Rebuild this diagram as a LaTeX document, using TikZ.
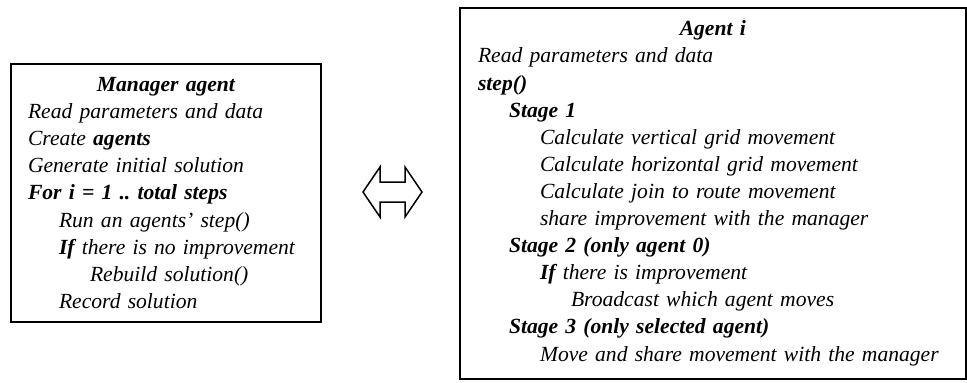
\documentclass[tikz,border=0pt]{standalone}
\usepackage{fontspec}
\setmainfont{Liberation Serif}
\usetikzlibrary{positioning}
\setlength{\parindent}{0pt}
\newcommand{\ind}{\hspace*{15.5pt}}

\begin{document}
\begin{tikzpicture}[
    x=0.5pt, y=-0.5pt,
    agentbox/.style={draw, rectangle, line width=1pt, inner ysep=0pt,
                font=\fontsize{10.8}{13.55}\selectfont\itshape\frenchspacing},
    link/.style={draw, line width=0.75pt, line join=miter}
]
\useasboundingbox (0,0) rectangle (967,382);

\node[agentbox, minimum width=155pt, minimum height=129pt,
      inner xsep=8.5pt, text width=138pt] (manager) at (166,193) {%
  {\centering\bfseries Manager agent\par}
  \raggedright
  Read parameters and data\\
  Create \textbf{agents}\\
  Generate initial solution\\
  \textbf{For i = 1 .. total steps}\\
  \ind Run an agents' step()\\
  \ind\textbf{If} there is no improvement\\
  \ind\ind Rebuild solution()\\
  \ind Record solution};

\node[agentbox, minimum width=252.75pt, minimum height=185.75pt,
      inner xsep=9pt, text width=234.75pt] (agent) at (712.75,193.25) {%
  {\centering\bfseries Agent i\par}
  \raggedright
  Read parameters and data\\
  \textbf{step()}\\
  \ind\textbf{Stage 1}\\
  \ind\ind Calculate vertical grid movement\\
  \ind\ind Calculate horizontal grid movement\\
  \ind\ind Calculate join to route movement\\
  \ind\ind share improvement with the manager\\
  \ind\textbf{Stage 2 (only agent 0)}\\
  \ind\ind\textbf{If} there is improvement\\
  \ind\ind\ind Broadcast which agent moves\\
  \ind\textbf{Stage 3 (only selected agent)}\\
  \ind\ind Move and share movement with the manager};

% two-way arrow between the boxes
\coordinate (mid) at (392.5,192);
\draw[link] (mid) ++(-29.5,0) -- ++(17,-25) -- ++(0,15) -- ++(25,0)
  -- ++(0,-15) -- ++(17,25) -- ++(-17,25) -- ++(0,-15) -- ++(-25,0)
  -- ++(0,15) -- cycle;
\end{tikzpicture}
\end{document}
